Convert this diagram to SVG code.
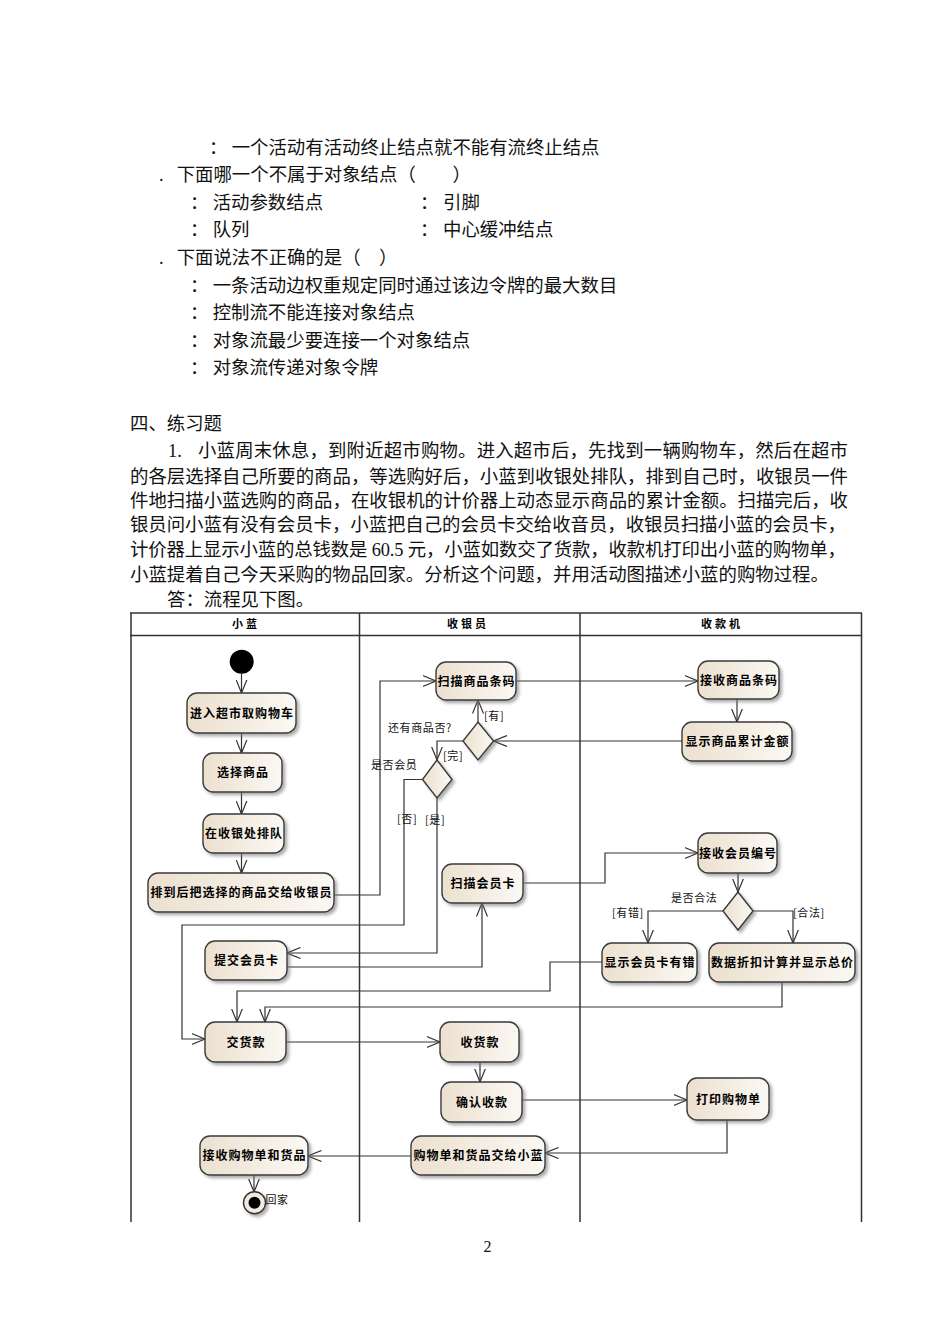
<svg xmlns="http://www.w3.org/2000/svg" width="950" height="1343" viewBox="0 0 950 1343">
<style>
.t{font-family:"Liberation Serif","Noto Sans CJK SC",serif;font-size:18.4px;fill:#111}
.nt{font-family:"Noto Sans CJK SC","Liberation Sans",sans-serif;font-size:12px;font-weight:bold;letter-spacing:1px;fill:#000;text-anchor:middle}
.lb{font-family:"Noto Sans CJK SC","Liberation Sans",sans-serif;font-size:11px;letter-spacing:0.6px;fill:#111}
.hd{font-family:"Noto Sans CJK SC","Liberation Sans",sans-serif;font-size:11px;font-weight:bold;letter-spacing:3px;fill:#000;text-anchor:middle}
.box{fill:url(#g);stroke:#3a3a3a;stroke-width:1.4;filter:url(#sh)}
.frame{stroke:#333;stroke-width:1.5;fill:none}
.c{fill:none;stroke:#333;stroke-width:1.2}
.a{marker-end:url(#arr)}
</style>
<defs>
<linearGradient id="g" x1="0" y1="0" x2="1" y2="0">
<stop offset="0" stop-color="#ece0cf"/>
<stop offset="1" stop-color="#fbf8f3"/>
</linearGradient>
<filter id="sh" x="-10%" y="-20%" width="130%" height="150%">
<feDropShadow dx="2.5" dy="2.5" stdDeviation="1.5" flood-color="#777" flood-opacity="0.6"/>
</filter>
<marker id="arr" viewBox="0 0 14 12" refX="13.5" refY="6" markerWidth="14" markerHeight="12" markerUnits="userSpaceOnUse" orient="auto">
<path d="M0,0.5 L13.5,6 L0,11.5" fill="none" stroke="#333" stroke-width="1.2"/>
</marker>
</defs>
<rect width="950" height="1343" fill="#fff"/>

<g id="page-text">
<text class="t" x="209" y="153.5">：</text>
<text class="t" x="231.7" y="153.5">一个活动有活动终止结点就不能有流终止结点</text>
<text class="t" x="159" y="181.1">.</text>
<text class="t" x="176.7" y="181.1">下面哪一个不属于对象结点（　　）</text>
<text class="t" x="190" y="208.7">：</text>
<text class="t" x="212.7" y="208.7">活动参数结点</text>
<text class="t" x="420" y="208.7">：</text>
<text class="t" x="443" y="208.7">引脚</text>
<text class="t" x="190" y="236.3">：</text>
<text class="t" x="212.7" y="236.3">队列</text>
<text class="t" x="420" y="236.3">：</text>
<text class="t" x="443" y="236.3">中心缓冲结点</text>
<text class="t" x="159" y="263.9">.</text>
<text class="t" x="176.7" y="263.9">下面说法不正确的是（　）</text>
<text class="t" x="190" y="291.5">：</text>
<text class="t" x="212.7" y="291.5">一条活动边权重规定同时通过该边令牌的最大数目</text>
<text class="t" x="190" y="319.1">：</text>
<text class="t" x="212.7" y="319.1">控制流不能连接对象结点</text>
<text class="t" x="190" y="346.7">：</text>
<text class="t" x="212.7" y="346.7">对象流最少要连接一个对象结点</text>
<text class="t" x="190" y="374.3">：</text>
<text class="t" x="212.7" y="374.3">对象流传递对象令牌</text>
<text class="t" x="130" y="429.7">四、练习题</text>
<text class="t" x="168" y="457">1.</text>
<text class="t" x="198" y="457" textLength="650" lengthAdjust="spacing">小蓝周末休息，到附近超市购物。进入超市后，先找到一辆购物车，然后在超市</text>
<text class="t" x="130" y="482.5" textLength="718" lengthAdjust="spacing">的各层选择自己所要的商品，等选购好后，小蓝到收银处排队，排到自己时，收银员一件</text>
<text class="t" x="130" y="506.5" textLength="718" lengthAdjust="spacing">件地扫描小蓝选购的商品，在收银机的计价器上动态显示商品的累计金额。扫描完后，收</text>
<text class="t" x="130" y="531.2" textLength="716" lengthAdjust="spacing">银员问小蓝有没有会员卡，小蓝把自己的会员卡交给收音员，收银员扫描小蓝的会员卡，</text>
<text class="t" x="130" y="556" textLength="716" lengthAdjust="spacing">计价器上显示小蓝的总钱数是 60.5 元，小蓝如数交了货款，收款机打印出小蓝的购物单，</text>
<text class="t" x="130" y="580.5">小蓝提着自己今天采购的物品回家。分析这个问题，并用活动图描述小蓝的购物过程。</text>
<text class="t" x="167" y="606">答：流程见下图。</text>
<text x="487.5" y="1252" style="font-family:'Liberation Serif',serif;font-size:16px;fill:#111" text-anchor="middle">2</text>
</g>

<g id="swimlanes">
<path class="frame" d="M130,613 H862 M130,635.5 H862 M131,613 V1222 M359.5,613 V1222 M580,613 V1222 M861.5,613 V1222"/>
<text class="hd" x="246" y="628">小蓝</text>
<text class="hd" x="468" y="628">收银员</text>
<text class="hd" x="722" y="628">收款机</text>
</g>

<g id="connectors">
<path class="c a" d="M241.5,674 V693"/>
<path class="c a" d="M241.5,733 V753"/>
<path class="c a" d="M241.5,792 V814"/>
<path class="c a" d="M241.5,853 V873"/>
<path class="c a" d="M334,895 H380 V681 H436"/>
<path class="c a" d="M516,681 H698"/>
<path class="c a" d="M737,699 V722"/>
<path class="c a" d="M682,741 H493.5"/>
<path class="c a" d="M478,722 V700"/>
<path class="c a" d="M463,741 H437 V760"/>
<path class="c a" d="M422.5,779.5 H404 V925 H182 V1039 H205"/>
<path class="c a" d="M437,798 V953 H287"/>
<path class="c a" d="M287,967 H482 V903"/>
<path class="c a" d="M523,883 H605 V853 H698"/>
<path class="c a" d="M738,873 V892"/>
<path class="c a" d="M723,911 H648 V943"/>
<path class="c a" d="M753,911 H793 V943"/>
<path class="c a" d="M602,962 H550 V991 H237 V1022"/>
<path class="c a" d="M782,982 V1007 H265 V1022"/>
<path class="c a" d="M286,1042 H440"/>
<path class="c a" d="M480,1062 V1082"/>
<path class="c a" d="M522,1100 H687"/>
<path class="c a" d="M727,1120 V1153 H545"/>
<path class="c a" d="M411,1156 H308"/>
<path class="c a" d="M254,1175 V1192"/>
</g>

<g id="start"><circle cx="241.7" cy="661.7" r="12" fill="#000"/></g>

<g id="n-enter"><rect class="box" x="187" y="693" width="109" height="40" rx="10"/><text class="nt" x="242" y="717.5">进入超市取购物车</text></g>
<g id="n-select"><rect class="box" x="203" y="753" width="79" height="39" rx="10"/><text class="nt" x="243" y="777">选择商品</text></g>
<g id="n-queue"><rect class="box" x="203" y="814" width="81" height="39" rx="10"/><text class="nt" x="244" y="838">在收银处排队</text></g>
<g id="n-handover"><rect class="box" x="148" y="873" width="186" height="39" rx="10"/><text class="nt" x="241.5" y="897">排到后把选择的商品交给收银员</text></g>
<g id="n-submitcard"><rect class="box" x="205" y="941" width="82" height="39" rx="10"/><text class="nt" x="246.5" y="965">提交会员卡</text></g>
<g id="n-pay"><rect class="box" x="205" y="1022" width="81" height="40" rx="10"/><text class="nt" x="246" y="1046.5">交货款</text></g>
<g id="n-receive"><rect class="box" x="200" y="1136" width="108" height="39" rx="10"/><text class="nt" x="254.5" y="1160">接收购物单和货品</text></g>
<g id="end"><circle cx="254.5" cy="1202.7" r="11" fill="#f3ebe0" stroke="#333" stroke-width="1.4" filter="url(#sh)"/><circle cx="254.5" cy="1202.7" r="6" fill="#000"/><text class="lb" x="265.5" y="1203.5">回家</text></g>

<g id="n-scan"><rect class="box" x="436" y="662" width="80" height="38" rx="10"/><text class="nt" x="476.5" y="685.5">扫描商品条码</text></g>
<g id="d-more"><polygon points="478,722 493.5,741 478,760 463,741" fill="url(#g)" stroke="#3a3a3a" stroke-width="1.4" filter="url(#sh)"/>
<text class="lb" x="388" y="732">还有商品否?</text><text class="lb" x="484" y="720">[有]</text><text class="lb" x="443" y="760">[完]</text></g>
<g id="d-member"><polygon points="437,760 452,779.5 437,798 422.5,779.5" fill="url(#g)" stroke="#3a3a3a" stroke-width="1.4" filter="url(#sh)"/>
<text class="lb" x="371" y="769">是否会员</text><text class="lb" x="397" y="823">[否]</text><text class="lb" x="425" y="824">[是]</text></g>
<g id="n-scancard"><rect class="box" x="442" y="864" width="81" height="39" rx="10"/><text class="nt" x="483" y="888">扫描会员卡</text></g>
<g id="n-collect"><rect class="box" x="440" y="1022" width="79" height="40" rx="10"/><text class="nt" x="480" y="1046.5">收货款</text></g>
<g id="n-confirm"><rect class="box" x="441" y="1082" width="81" height="40" rx="10"/><text class="nt" x="482" y="1106.5">确认收款</text></g>
<g id="n-give"><rect class="box" x="411" y="1136" width="134" height="39" rx="10"/><text class="nt" x="478.5" y="1160">购物单和货品交给小蓝</text></g>

<g id="n-recvcode"><rect class="box" x="698" y="661" width="81" height="38" rx="10"/><text class="nt" x="739" y="684.5">接收商品条码</text></g>
<g id="n-showsum"><rect class="box" x="682" y="722" width="110" height="39" rx="10"/><text class="nt" x="737.5" y="746">显示商品累计金额</text></g>
<g id="n-recvmember"><rect class="box" x="698" y="833" width="79" height="40" rx="10"/><text class="nt" x="738" y="857.5">接收会员编号</text></g>
<g id="d-valid"><polygon points="738,892 753,911 738,930 723,911" fill="url(#g)" stroke="#3a3a3a" stroke-width="1.4" filter="url(#sh)"/>
<text class="lb" x="671" y="902">是否合法</text><text class="lb" x="612" y="917">[有错]</text><text class="lb" x="793" y="917">[合法]</text></g>
<g id="n-carderror"><rect class="box" x="602" y="943" width="95" height="39" rx="10"/><text class="nt" x="650" y="967">显示会员卡有错</text></g>
<g id="n-discount"><rect class="box" x="709" y="943" width="146" height="39" rx="10"/><text class="nt" x="782.5" y="967">数据折扣计算并显示总价</text></g>
<g id="n-print"><rect class="box" x="687" y="1078" width="82" height="42" rx="10"/><text class="nt" x="728.5" y="1103.5">打印购物单</text></g>
</svg>
